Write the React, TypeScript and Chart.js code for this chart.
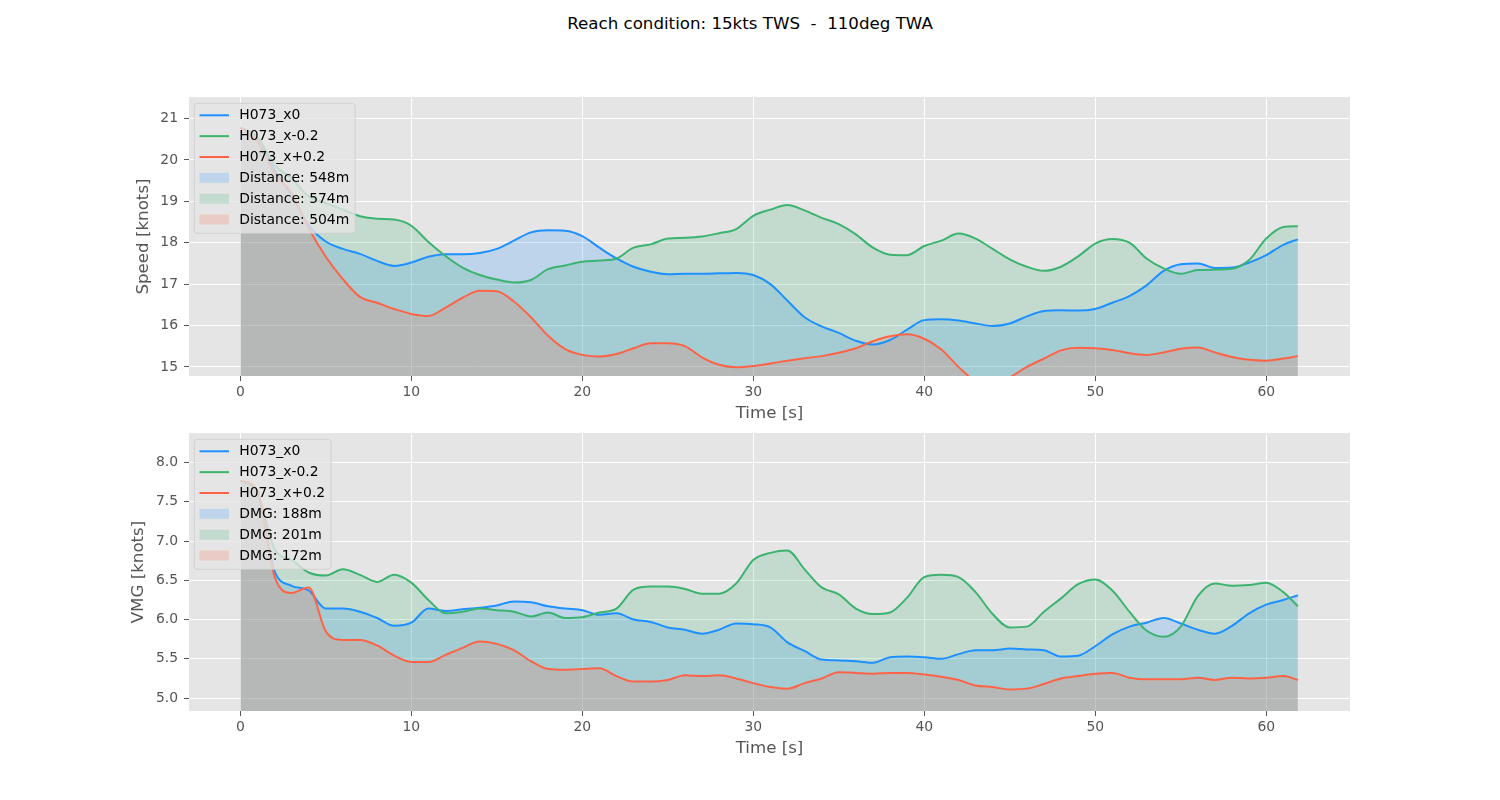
import React, { useEffect, useRef } from "react";
import { Chart, registerables } from "chart.js";

Chart.register(...registerables);
Chart.defaults.font.family = "'DejaVu Sans', sans-serif";

const FIGURE_TITLE = "Reach condition: 15kts TWS  -  110deg TWA";

const times = [
  0, 1, 2, 3, 4, 5, 6, 7, 8, 9, 10, 11, 12, 13, 14, 15, 16, 17, 18, 19, 20,
  21, 22, 23, 24, 25, 26, 27, 28, 29, 30, 31, 32, 33, 34, 35, 36, 37, 38, 39,
  40, 41, 42, 43, 44, 45, 46, 47, 48, 49, 50, 51, 52, 53, 54, 55, 56, 57, 58,
  59, 60, 61, 61.85,
];

const seriesNames = ["H073_x0", "H073_x-0.2", "H073_x+0.2"];
const seriesColors = ["#1E90FF", "#3CB371", "#FF6347"];
const fillColors = [
  "rgba(30,144,255,0.2)",
  "rgba(60,179,113,0.2)",
  "rgba(255,99,71,0.2)",
];
const distanceLabels = ["Distance: 548m", "Distance: 574m", "Distance: 504m"];
const dmgLabels = ["DMG: 188m", "DMG: 201m", "DMG: 172m"];

// Speed [knots]
const speedX0 = [
  20.78, 20.55, 19.76, 19.15, 18.42, 18.03, 17.85, 17.73, 17.56, 17.44, 17.52,
  17.66, 17.72, 17.72, 17.75, 17.85, 18.05, 18.25, 18.3, 18.29, 18.16, 17.88,
  17.62, 17.42, 17.3, 17.24, 17.25, 17.25, 17.26, 17.27, 17.22, 17.0, 16.6,
  16.2, 15.98, 15.82, 15.63, 15.54, 15.65, 15.9, 16.13, 16.15, 16.12, 16.05,
  15.99, 16.05, 16.22, 16.35, 16.37, 16.36, 16.4, 16.55, 16.71, 16.97, 17.32,
  17.48, 17.5, 17.39, 17.4, 17.52, 17.7, 17.95, 18.08,
];
const speedXm02 = [
  20.78, 20.55, 19.88, 19.55, 19.12, 18.96, 18.8, 18.64, 18.58, 18.56, 18.41,
  18.02, 17.68, 17.4, 17.22, 17.11, 17.04, 17.1, 17.36, 17.45, 17.54, 17.57,
  17.62, 17.88, 17.96, 18.1, 18.12, 18.15, 18.23, 18.33, 18.65, 18.8, 18.91,
  18.78, 18.6, 18.45, 18.2, 17.88, 17.71, 17.7, 17.92, 18.05, 18.22, 18.1,
  17.85, 17.6, 17.42, 17.32, 17.42, 17.67, 17.98, 18.09, 18.0, 17.62, 17.38,
  17.25, 17.34, 17.35, 17.37, 17.58, 18.1, 18.38, 18.4,
];
const speedXp02 = [
  20.78, 20.45, 19.68, 19.2, 18.35, 17.66, 17.12, 16.69, 16.55, 16.4, 16.28,
  16.23, 16.43, 16.67, 16.84, 16.83, 16.58, 16.2, 15.75, 15.43, 15.29, 15.25,
  15.31, 15.45, 15.57, 15.57, 15.5, 15.23, 15.05, 14.99, 15.02, 15.08, 15.15,
  15.21, 15.26, 15.34, 15.45, 15.62, 15.74, 15.79, 15.68, 15.42, 15.0, 14.65,
  14.52, 14.74, 15.0, 15.2, 15.4, 15.46, 15.45, 15.41, 15.33, 15.29, 15.35,
  15.44, 15.47, 15.35, 15.24, 15.17, 15.15, 15.2, 15.26,
];

// VMG [knots]
const vmgX0 = [
  7.77, 7.62, 6.62, 6.43, 6.37, 6.14, 6.14, 6.1, 6.02, 5.92, 5.96, 6.14, 6.11,
  6.13, 6.15, 6.18, 6.23, 6.22, 6.17, 6.14, 6.12, 6.06, 6.08, 6.0, 5.97, 5.9,
  5.87, 5.82, 5.87, 5.95, 5.94, 5.9, 5.71, 5.6, 5.49, 5.48, 5.47, 5.45, 5.52,
  5.53, 5.52, 5.5, 5.56, 5.61, 5.61, 5.63, 5.62, 5.61, 5.53, 5.54, 5.66, 5.81,
  5.91, 5.96, 6.02, 5.95, 5.87, 5.82, 5.92, 6.08, 6.19, 6.25, 6.31,
];
const vmgXm02 = [
  7.77, 7.62, 6.9, 6.76, 6.6, 6.56, 6.64, 6.57, 6.48, 6.57, 6.47, 6.25, 6.08,
  6.1, 6.14, 6.12, 6.1, 6.04, 6.09, 6.02, 6.03, 6.09, 6.14, 6.38, 6.42, 6.42,
  6.39, 6.33, 6.33, 6.46, 6.76, 6.85, 6.88, 6.64, 6.41, 6.32, 6.14, 6.07, 6.09,
  6.28, 6.54, 6.57, 6.54, 6.35, 6.07, 5.9, 5.91, 6.1, 6.27, 6.45, 6.51, 6.37,
  6.1, 5.86, 5.78, 5.91, 6.3, 6.46, 6.43, 6.44, 6.47, 6.35, 6.17,
];
const vmgXp02 = [
  7.77, 7.65, 6.55, 6.34, 6.41, 5.85, 5.74, 5.74, 5.67, 5.54, 5.46, 5.46, 5.55,
  5.64, 5.72, 5.69, 5.61, 5.47, 5.37, 5.36, 5.37, 5.38, 5.28, 5.21, 5.21, 5.23,
  5.29, 5.28, 5.29, 5.25, 5.19, 5.14, 5.12, 5.19, 5.25, 5.33, 5.32, 5.31, 5.32,
  5.32, 5.3, 5.27, 5.23, 5.16, 5.14, 5.11, 5.12, 5.18, 5.25, 5.28, 5.31, 5.32,
  5.26, 5.24, 5.24, 5.24, 5.26, 5.23, 5.26, 5.25, 5.26, 5.28, 5.23,
];

const timeTicks = [0, 10, 20, 30, 40, 50, 60];
const speedTicks = [15, 16, 17, 18, 19, 20, 21];
const vmgTicks = [5.0, 5.5, 6.0, 6.5, 7.0, 7.5, 8.0];

const timeRange = [-3.0, 64.9];
const speedRange = [14.78, 21.52];
const vmgRange = [4.835, 8.377];

const AXIS_GRAY = "#555555";
const PANEL_BG = "#E5E5E5";

const panelBackground = {
  id: "panelBackground",
  beforeDraw(chart: any) {
    const { ctx, chartArea: a } = chart;
    ctx.save();
    ctx.fillStyle = PANEL_BG;
    ctx.fillRect(a.left, a.top, a.right - a.left, a.bottom - a.top);
    ctx.restore();
  },
};

const mplLegend = {
  id: "mplLegend",
  afterDraw(chart: any, _args: any, opts: any) {
    const { ctx, chartArea: a } = chart;
    const lines: string[] = opts.lines || [];
    const patches: string[] = opts.patches || [];
    ctx.save();
    ctx.font = "13.9px 'DejaVu Sans', sans-serif";
    const all = [...lines, ...patches];
    const maxW = Math.max(...all.map((s) => ctx.measureText(s).width));
    const bx = a.left + 5.3;
    const by = a.top + 6.3;
    const bw = 45 + maxW + 6;
    const bh = 130;
    const r = 3;
    ctx.beginPath();
    ctx.moveTo(bx + r, by);
    ctx.lineTo(bx + bw - r, by);
    ctx.quadraticCurveTo(bx + bw, by, bx + bw, by + r);
    ctx.lineTo(bx + bw, by + bh - r);
    ctx.quadraticCurveTo(bx + bw, by + bh, bx + bw - r, by + bh);
    ctx.lineTo(bx + r, by + bh);
    ctx.quadraticCurveTo(bx, by + bh, bx, by + bh - r);
    ctx.lineTo(bx, by + r);
    ctx.quadraticCurveTo(bx, by, bx + r, by);
    ctx.closePath();
    ctx.fillStyle = "rgba(229,229,229,0.8)";
    ctx.fill();
    ctx.strokeStyle = "rgba(204,204,204,0.8)";
    ctx.lineWidth = 1;
    ctx.stroke();

    const hx0 = a.left + 10.5;
    const hx1 = a.left + 40;
    const tx = a.left + 50.3;
    const rowY = (i: number) => a.top + 18.3 + i * 20.85;
    ctx.textBaseline = "middle";
    ctx.textAlign = "left";
    lines.forEach((label, i) => {
      const y = rowY(i);
      ctx.beginPath();
      ctx.moveTo(hx0, y);
      ctx.lineTo(hx1, y);
      ctx.strokeStyle = seriesColors[i];
      ctx.lineWidth = 2;
      ctx.stroke();
      ctx.fillStyle = "#000";
      ctx.fillText(label, tx, y + 0.5);
    });
    patches.forEach((label, j) => {
      const y = rowY(lines.length + j);
      ctx.fillStyle = fillColors[j];
      ctx.fillRect(hx0, y - 5, hx1 - hx0, 10);
      ctx.fillStyle = "#000";
      ctx.fillText(label, tx, y + 0.5);
    });
    ctx.restore();
  },
};

function makeConfig(
  series: number[][],
  yRange: number[],
  yTicks: number[],
  yTitle: string,
  yTitlePad: number,
  fmt: (v: number) => string,
  patchLabels: string[],
  padding: { top: number; bottom: number }
): any {
  return {
    type: "line",
    data: {
      datasets: series.map((vals, i) => ({
        label: seriesNames[i],
        data: times.map((t, k) => ({ x: t, y: vals[k] })),
        borderColor: seriesColors[i],
        backgroundColor: fillColors[i],
        borderWidth: 2,
        pointRadius: 0,
        fill: "start",
        cubicInterpolationMode: "monotone",
        tension: 0.4,
        order: 3 - i,
      })),
    },
    options: {
      animation: false,
      responsive: false,
      devicePixelRatio: 1,
      events: [],
      layout: {
        autoPadding: false,
        padding: { left: 0, right: 150, top: padding.top, bottom: padding.bottom },
      },
      plugins: {
        legend: { display: false },
        tooltip: { enabled: false },
        filler: { drawTime: "beforeDatasetsDraw" },
        mplLegend: { lines: seriesNames, patches: patchLabels },
      },
      scales: {
        x: {
          type: "linear",
          min: timeRange[0],
          max: timeRange[1],
          afterBuildTicks: (ax: any) => {
            ax.ticks = timeTicks.map((v) => ({ value: v }));
          },
          afterFit: (s: any) => {
            s.height = 50;
          },
          border: { display: false },
          grid: {
            color: "#FFFFFF",
            lineWidth: 1,
            tickColor: AXIS_GRAY,
            tickLength: 5,
            tickWidth: 1,
          },
          ticks: {
            color: AXIS_GRAY,
            font: { size: 13.9 },
            padding: 3,
            maxRotation: 0,
            autoSkip: false,
            callback: (v: number) => String(v),
          },
          title: {
            display: true,
            text: "Time [s]",
            color: AXIS_GRAY,
            font: { size: 16.67 },
            padding: { top: 0, bottom: 2 },
          },
        },
        y: {
          type: "linear",
          min: yRange[0],
          max: yRange[1],
          afterBuildTicks: (ax: any) => {
            ax.ticks = yTicks.map((v) => ({ value: v }));
          },
          afterFit: (s: any) => {
            s.width = 189;
          },
          border: { display: false },
          grid: {
            color: "#FFFFFF",
            lineWidth: 1,
            tickColor: AXIS_GRAY,
            tickLength: 5,
            tickWidth: 1,
          },
          ticks: {
            color: AXIS_GRAY,
            font: { size: 13.9 },
            padding: 6,
            autoSkip: false,
            callback: (v: number) => fmt(v),
          },
          title: {
            display: true,
            text: yTitle,
            color: AXIS_GRAY,
            font: { size: 16.67 },
            padding: { top: yTitlePad, bottom: 0 },
          },
        },
      },
    },
    plugins: [panelBackground, mplLegend],
  };
}

export default function App() {
  const speedRef = useRef<HTMLCanvasElement | null>(null);
  const vmgRef = useRef<HTMLCanvasElement | null>(null);

  useEffect(() => {
    const charts: Chart[] = [];
    if (speedRef.current) {
      charts.push(
        new Chart(
          speedRef.current,
          makeConfig(
            [speedX0, speedXm02, speedXp02],
            speedRange,
            speedTicks,
            "Speed [knots]",
            134,
            (v) => String(v),
            distanceLabels,
            { top: 47, bottom: 4 }
          )
        )
      );
    }
    if (vmgRef.current) {
      charts.push(
        new Chart(
          vmgRef.current,
          makeConfig(
            [vmgX0, vmgXm02, vmgXp02],
            vmgRange,
            vmgTicks,
            "VMG [knots]",
            129,
            (v) => v.toFixed(1),
            dmgLabels,
            { top: 18, bottom: 39 }
          )
        )
      );
    }
    return () => charts.forEach((c) => c.destroy());
  }, []);

  return (
    <div
      style={{
        position: "absolute",
        left: 0,
        top: 0,
        width: 1500,
        height: 800,
        background: "#FFFFFF",
        overflow: "hidden",
      }}
    >
      <div
        style={{
          position: "absolute",
          left: 0,
          top: 14,
          width: 1500,
          textAlign: "center",
          fontFamily: "'DejaVu Sans', sans-serif",
          fontSize: 16.67,
          lineHeight: "20px",
          color: "#000",
          whiteSpace: "pre",
        }}
      >
        {FIGURE_TITLE}
      </div>
      <canvas
        ref={speedRef}
        width={1500}
        height={380}
        style={{ position: "absolute", left: 0, top: 50, width: 1500, height: 380 }}
      />
      <canvas
        ref={vmgRef}
        width={1500}
        height={385}
        style={{ position: "absolute", left: 0, top: 415, width: 1500, height: 385 }}
      />
    </div>
  );
}
